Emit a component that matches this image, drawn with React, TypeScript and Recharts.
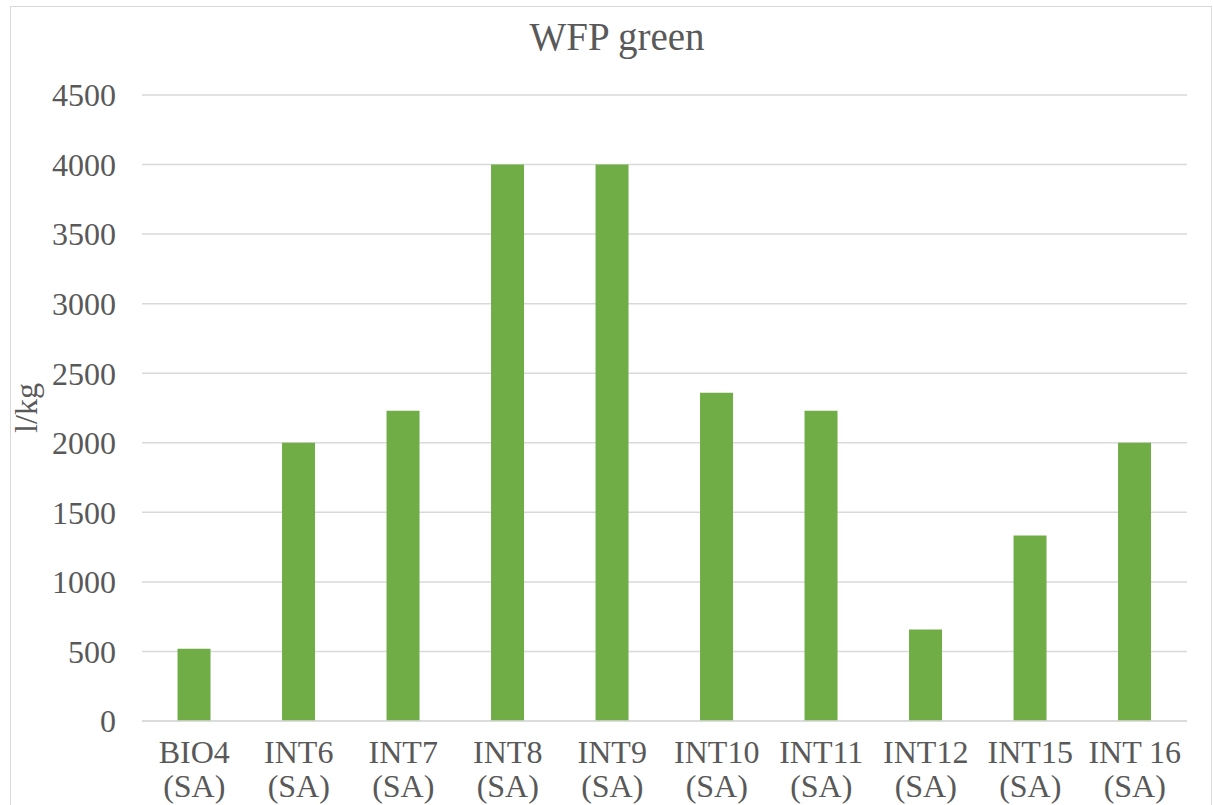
import { BarChart, Bar, XAxis, YAxis, CartesianGrid } from 'recharts';

const categories = [
  'BIO4 (SA)',
  'INT6 (SA)',
  'INT7 (SA)',
  'INT8 (SA)',
  'INT9 (SA)',
  'INT10 (SA)',
  'INT11 (SA)',
  'INT12 (SA)',
  'INT15 (SA)',
  'INT 16 (SA)',
];
const wfpGreen = [520, 2000, 2230, 4000, 4000, 2360, 2230, 658, 1333, 2000];
const yTicks = [0, 500, 1000, 1500, 2000, 2500, 3000, 3500, 4000, 4500];

const data = categories.map((name, i) => ({ name, value: wfpGreen[i] }));

const FONT = '"Liberation Serif", "Times New Roman", serif';
const TEXT = '#595959';
const GRID = '#d9d9d9';
const BAR = '#70ad47';

// two-line category label: "INT 16 (SA)" -> "INT 16" / "(SA)"
function CategoryTick({ x, y, payload }: any) {
  const s = String(payload.value);
  const cut = s.lastIndexOf(' (');
  const top = cut > 0 ? s.slice(0, cut) : s;
  const bottom = cut > 0 ? s.slice(cut + 1) : '';
  return (
    <text x={x} y={y} textAnchor="middle" fill={TEXT} fontFamily={FONT} fontSize={32}>
      <tspan x={x} dy={36}>{top}</tspan>
      <tspan x={x} dy={34}>{bottom}</tspan>
    </text>
  );
}

export default function App() {
  return (
    <div style={{ position: 'absolute', left: 0, top: 0, width: 1213, height: 805, background: '#fff', overflow: 'hidden' }}>
      <div style={{ position: 'absolute', left: 10, top: 6, width: 1200, height: 820, border: `1px solid ${GRID}` }} />
      <div
        style={{
          position: 'absolute',
          left: 0,
          width: 1234,
          top: 14,
          textAlign: 'center',
          fontFamily: FONT,
          fontSize: 39,
          color: TEXT,
        }}
      >
        WFP green
      </div>
      <div
        style={{
          position: 'absolute',
          left: 26,
          top: 408,
          transform: 'translate(-50%, -50%) rotate(-90deg)',
          fontFamily: FONT,
          fontSize: 32,
          color: TEXT,
          whiteSpace: 'nowrap',
        }}
      >
        l/kg
      </div>
      <div style={{ position: 'absolute', left: 0, top: 0 }}>
        <BarChart width={1213} height={805} data={data} margin={{ top: 95, right: 26, left: 0, bottom: 0 }} barCategoryGap="34%">
          <CartesianGrid stroke={GRID} strokeWidth={1.5} vertical={false} />
          <XAxis
            dataKey="name"
            height={84}
            interval={0}
            tickLine={false}
            tickMargin={0}
            axisLine={{ stroke: GRID, strokeWidth: 1.5 }}
            tick={<CategoryTick />}
          />
          <YAxis
            width={142}
            domain={[0, 4500]}
            ticks={yTicks}
            interval={0}
            axisLine={false}
            tickLine={false}
            tickMargin={20}
            tick={{ fill: TEXT, fontFamily: FONT, fontSize: 32 }}
          />
          <Bar dataKey="value" fill={BAR} isAnimationActive={false} />
        </BarChart>
      </div>
    </div>
  );
}
